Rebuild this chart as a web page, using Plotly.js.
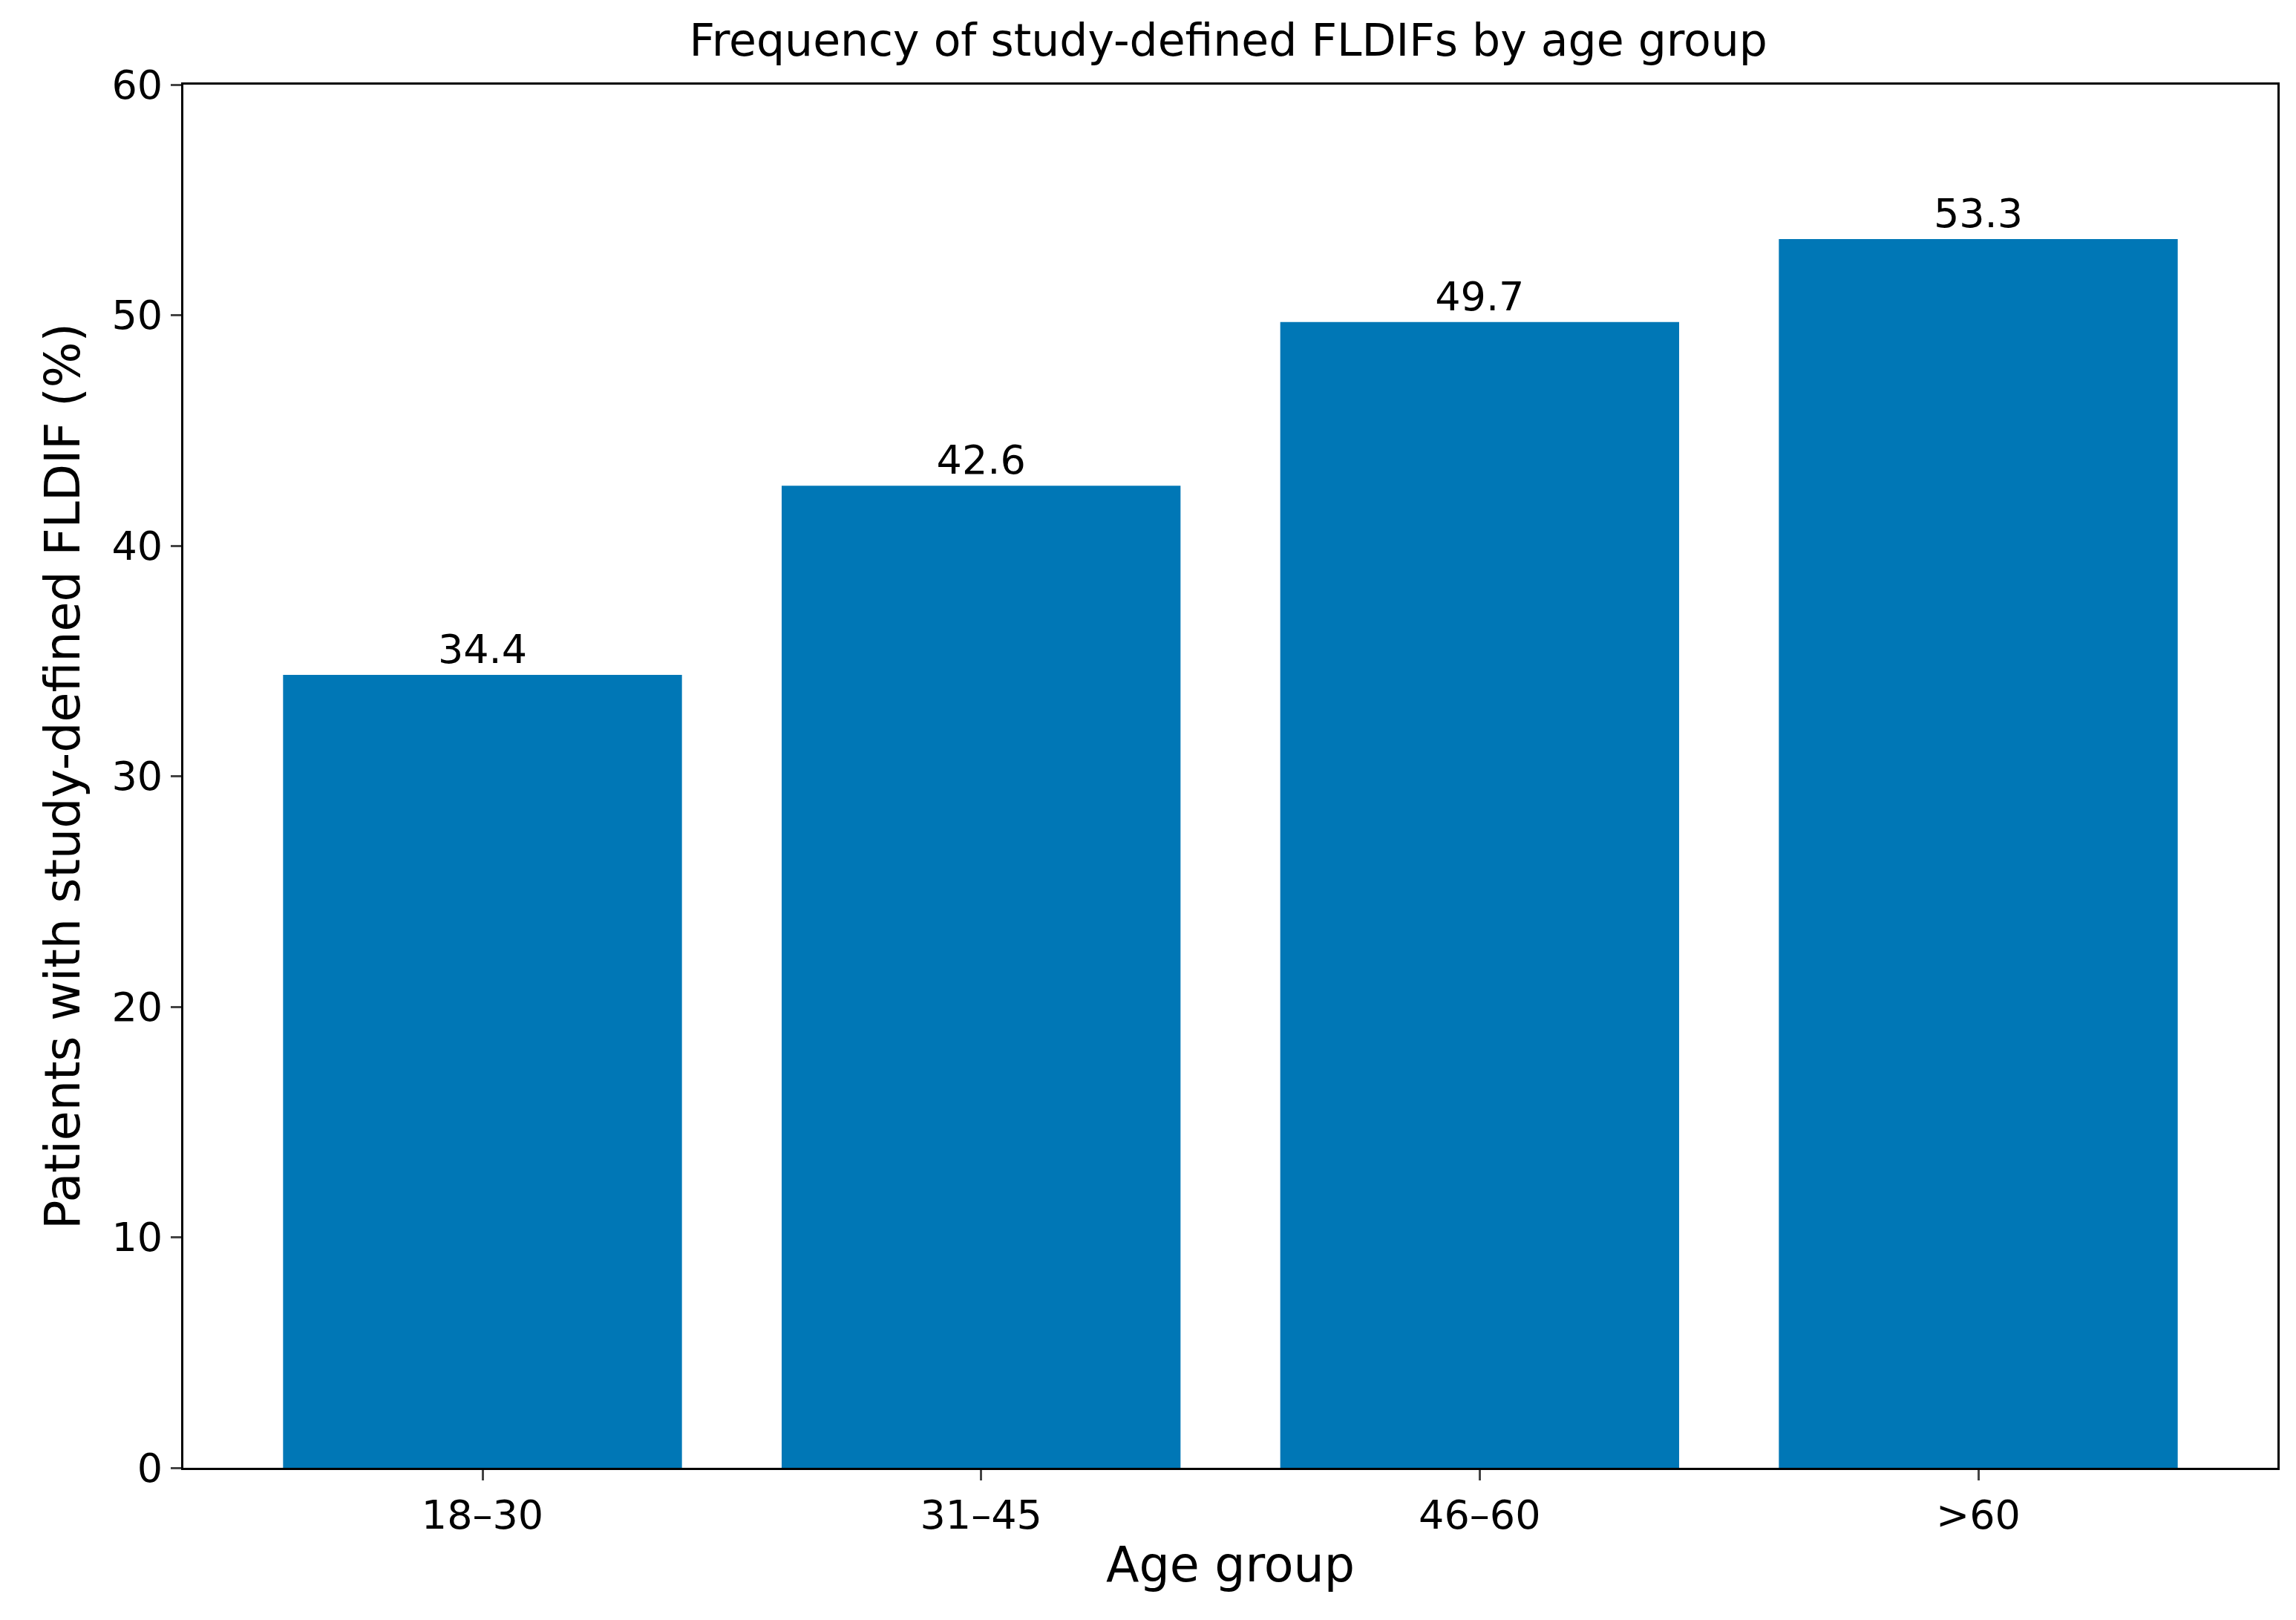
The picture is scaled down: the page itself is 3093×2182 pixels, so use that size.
<!DOCTYPE html>
<html>
<head>
<meta charset="utf-8">
<script src="https://cdn.plot.ly/plotly-3.0.1.min.js"></script>
<style>html,body{margin:0;padding:0;background:#fff}</style>
</head>
<body>
<div id="chart" style="width:3093px;height:2182px"></div>
<script>
var ageGroups = ['18–30', '31–45', '46–60', '>60'];
var percentages = [34.4, 42.6, 49.7, 53.3];
var labels = percentages.map(function(v) { return v.toFixed(1); });

var font = 'DejaVu Sans, sans-serif';

Plotly.newPlot('chart', [{
    x: [0, 1, 2, 3],
    y: percentages,
    type: 'bar',
    width: 0.8,
    marker: {color: '#0077b6'},
    text: labels,
    textposition: 'outside',
    cliponaxis: false,
    textfont: {family: font, size: 54, color: '#000'}
}], {
    width: 3093,
    height: 2182,
    paper_bgcolor: '#fff',
    plot_bgcolor: '#fff',
    font: {family: font, size: 54, color: '#000'},
    margin: {l: 247, r: 25, t: 114, b: 205},
    title: {text: 'Frequency of study-defined FLDIFs by age group', x: 0.535, xanchor: 'center', y: 0.985, yanchor: 'top', font: {size: 60}},
    xaxis: {
        range: [-0.6, 3.6],
        tickvals: [0, 1, 2, 3],
        ticktext: ageGroups,
        ticks: 'outside', ticklen: 14, tickwidth: 3,
        showline: true, linewidth: 3, linecolor: '#000', mirror: true,
        showgrid: false, zeroline: false,
        title: {text: 'Age group', standoff: 14}
    },
    yaxis: {
        range: [0, 60],
        dtick: 10,
        ticks: 'outside', ticklen: 14, tickwidth: 3,
        showline: true, linewidth: 3, linecolor: '#000', mirror: true,
        showgrid: false, zeroline: false,
        title: {text: 'Patients with study-defined FLDIF (%)', standoff: 22}
    },
    showlegend: false
}, {staticPlot: true});
</script>
</body>
</html>
